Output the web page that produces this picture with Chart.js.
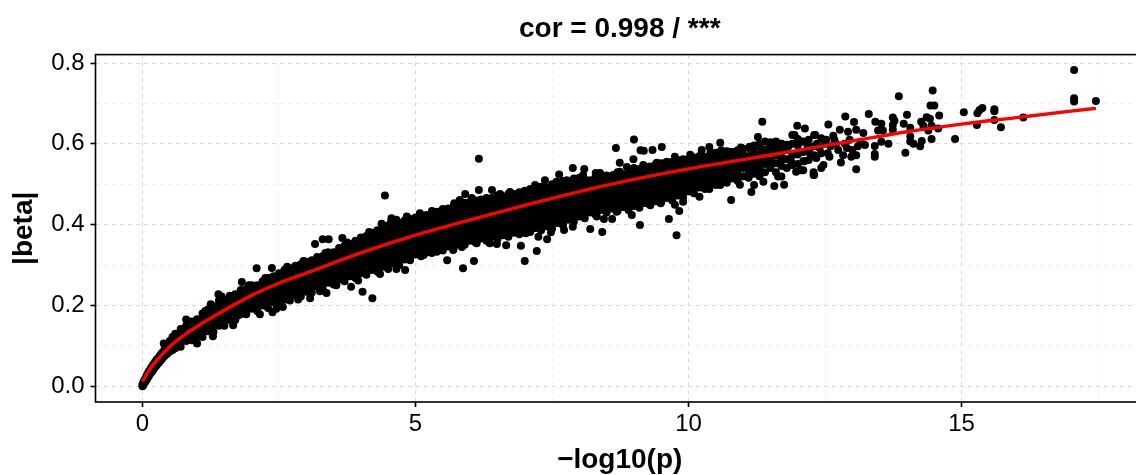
<!DOCTYPE html>
<html>
<head>
<meta charset="utf-8">
<title>cor = 0.998</title>
<script src="https://cdn.jsdelivr.net/npm/chart.js@4"></script>
<style>
  html, body { margin: 0; padding: 0; background: #fff; overflow: hidden; }
  #wrap { width: 1150px; height: 475px; }
</style>
</head>
<body>
<div id="wrap"><canvas id="plot" width="1150" height="475"></canvas></div>
<script>
// each row: -log10(p), then the |beta| values read at that position
const rowsOrigin = [
  [0,0,.004],[.01,.002,.006],[.02,.005,.011],[.04,.009,.016],[.06,.013,.021],[.08,.017,.027],[.1,.022,.032],[.12,.026,.037],
  [.15,.032,.044],[.18,.037,.05],[.2,.042,.054],[.23,.047,.06],[.26,.052,.066],[.3,.058,.072],[.33,.063,.078],[.36,.068,.083],
  [.4,.074,.09],[.45,.08,.096],[.5,.086,.102,.112]
];
const rowsStart = [
  [.55,.09,.106,.122],[.6,.094,.108,.122,.13],[.7,.098,.114,.13,.142],[.8,.112,.124,.138,.15],[.9,.114,.128,.144,.16],
  [1,.124,.138,.152,.166],[1.1,.122,.138,.154,.17,.18],[1.2,.136,.152,.168,.184,.19],[1.3,.134,.15,.166,.182,.198],
  [1.4,.15,.166,.182,.198,.212],[1.5,.15,.166,.182,.198,.214],[1.6,.164,.18,.196,.212,.224],[1.7,.164,.18,.196,.212,.228],
  [1.8,.178,.194,.21,.226,.238],[1.9,.178,.194,.21,.226,.24],[2,.192,.208,.224,.24,.25],[2.1,.186,.202,.218,.234,.25],
  [2.2,.2,.216,.232,.248,.26],[2.3,.194,.21,.226,.242,.258,.268],[2.4,.208,.224,.24,.256,.272],[2.5,.2,.216,.232,.248,.264,.28],
  [2.6,.214,.23,.246,.262,.278,.288],[2.7,.212,.228,.244,.26,.276,.292],[2.8,.226,.242,.258,.274,.29,.298],[2.9,.222,.238,.254,.27,.286,.302],
  [3,.234,.25,.266,.282,.298,.308],[3.1,.232,.248,.264,.28,.296,.312],[3.2,.246,.262,.278,.294,.31,.32],[3.3,.242,.258,.274,.29,.306,.322],
  [3.4,.256,.272,.288,.304,.32,.332],[3.5,.252,.268,.284,.3,.316,.332],[3.6,.264,.28,.296,.312,.328,.342],[3.7,.26,.276,.292,.308,.324,.34,.348],
  [3.8,.272,.288,.304,.32,.336,.352],[3.9,.268,.284,.3,.316,.332,.348,.36],[4,.28,.296,.312,.328,.344,.36,.368],
  [4.1,.276,.292,.308,.324,.34,.356,.372],[4.2,.288,.304,.32,.336,.352,.368,.38],[4.3,.284,.3,.316,.332,.348,.364,.38,.386],
  [4.4,.296,.312,.328,.344,.36,.376,.392],[4.5,.29,.306,.322,.338,.354,.37,.386,.398],[4.6,.304,.32,.336,.352,.368,.384,.4],
  [4.7,.3,.316,.332,.348,.364,.38,.396,.404],[4.8,.314,.33,.346,.362,.378,.394,.41],[4.9,.312,.328,.344,.36,.376,.392,.408,.414]
];
const rowsMiddle = [
  [5,.326,.342,.358,.374,.39,.406,.418],[5.1,.322,.338,.354,.37,.386,.402,.418],[5.2,.332,.348,.364,.38,.396,.412,.424],
  [5.3,.33,.346,.362,.378,.394,.41,.426],[5.4,.34,.356,.372,.388,.404,.42,.432],[5.5,.336,.352,.368,.384,.4,.416,.432],
  [5.6,.346,.362,.378,.394,.41,.426,.44],[5.7,.342,.358,.374,.39,.406,.422,.438,.446],[5.8,.352,.368,.384,.4,.416,.432,.448],
  [5.9,.35,.366,.382,.398,.414,.43,.446,.454],[6,.36,.376,.392,.408,.424,.44,.456],[6.1,.356,.372,.388,.404,.42,.436,.452,.46],
  [6.2,.366,.382,.398,.414,.43,.446,.462],[6.3,.36,.376,.392,.408,.424,.44,.456,.466],[6.4,.37,.386,.402,.418,.434,.45,.466],
  [6.5,.364,.38,.396,.412,.428,.444,.46,.472],[6.6,.374,.39,.406,.422,.438,.454,.47],[6.7,.37,.386,.402,.418,.434,.45,.466,.476],
  [6.8,.38,.396,.412,.428,.444,.46,.476],[6.9,.376,.392,.408,.424,.44,.456,.472,.48],[7,.386,.402,.418,.434,.45,.466,.482],
  [7.1,.382,.398,.414,.43,.446,.462,.478,.488],[7.2,.392,.408,.424,.44,.456,.472,.488],[7.3,.386,.402,.418,.434,.45,.466,.482,.494],
  [7.4,.396,.412,.428,.444,.46,.476,.492],[7.5,.39,.406,.422,.438,.454,.47,.486,.5],[7.6,.404,.42,.436,.452,.468,.484,.5],
  [7.7,.4,.416,.432,.448,.464,.48,.496,.508],[7.8,.412,.428,.444,.46,.476,.492,.508],[7.9,.408,.424,.44,.456,.472,.488,.504,.514],
  [8,.42,.436,.452,.468,.484,.5,.516],[8.1,.416,.432,.448,.464,.48,.496,.512],[8.2,.43,.446,.462,.478,.494,.51],
  [8.3,.424,.44,.456,.472,.488,.504,.52],[8.4,.436,.452,.468,.484,.5,.516],[8.5,.43,.446,.462,.478,.494,.51,.522],
  [8.6,.44,.456,.472,.488,.504,.52],[8.7,.434,.45,.466,.482,.498,.514,.53],[8.8,.444,.46,.476,.492,.508,.524],
  [8.9,.436,.452,.468,.484,.5,.516,.532],[9,.446,.462,.478,.494,.51,.526,.54],[9.1,.442,.458,.474,.49,.506,.522,.538],
  [9.2,.454,.47,.486,.502,.518,.534,.544],[9.3,.448,.464,.48,.496,.512,.528,.544],[9.4,.458,.474,.49,.506,.522,.538,.55],
  [9.5,.456,.472,.488,.504,.52,.536,.552],[9.6,.466,.482,.498,.514,.53,.546,.556],[9.7,.46,.476,.492,.508,.524,.54,.556],
  [9.8,.472,.488,.504,.52,.536,.552,.56],[9.9,.468,.484,.5,.516,.532,.548,.562],[10,.482,.498,.514,.53,.546,.562]
];
const rowsLate = [
  [10.1,.478,.494,.51,.526,.542,.558,.566],[10.2,.492,.508,.524,.54,.556,.57],[10.3,.488,.504,.52,.536,.552,.568],
  [10.4,.5,.516,.532,.548,.564,.578],[10.5,.498,.514,.53,.546,.562,.578],[10.6,.51,.526,.542,.558,.574,.584],
  [10.7,.504,.52,.536,.552,.568,.582],[10.8,.514,.532,.548,.566,.58],[10.9,.508,.526,.542,.558,.574,.584],[11,.52,.54,.556,.572,.588],
  [11.1,.516,.534,.552,.57,.59],[11.2,.526,.544,.56,.578,.596],[11.3,.52,.538,.556,.574,.592,.6],[11.4,.53,.55,.568,.586,.606],
  [11.5,.54,.558,.578,.596,.604],[11.6,.53,.552,.572,.59,.606],[11.7,.519,.545,.568,.586,.6],[11.8,.54,.562,.584,.598],
  [11.9,.548,.572,.6,.622],[12,.55,.574,.596,.612],[12.1,.535,.557,.58,.606],[12.2,.56,.584,.61],[12.3,.523,.572,.594,.622]
];
const rowsEdge = [
  [4.84,.42],[5.08,.428],[5.3,.434],[5.5,.439],[5.81,.461],[6.03,.466],[6.55,.476],[6.73,.481],[7,.484],[7.19,.498],[7.37,.51],
  [7.58,.506],[7.77,.51],[8.07,.523],[8.62,.523],[8.74,.531],[9.17,.548],[9.42,.553],[9.75,.568],[10.03,.573],[10.79,.58],[11.12,.593],
  [4.9,.315],[5.15,.325],[5.39,.333],[5.69,.337],[5.85,.345],[6.12,.354],[6.36,.354],[6.67,.374],[7.16,.391],[7.41,.399],[8.01,.424],
  [8.38,.441],[8.68,.432],[8.96,.424],[9.23,.453],[9.49,.453],[9.75,.449],[9.9,.457],[10.58,.498],[11.07,.519],[11.37,.506],
  [1.75,.175],[2.15,.178],[2.45,.192],[2.85,.215],[3.25,.235],[3.55,.25],[3.95,.262],[4.35,.278],[4.65,.29],
  [1.15,.186],[1.45,.222],[1.95,.25],[2.25,.268],[2.65,.296],[2.95,.31],[3.35,.33],[3.75,.356],[4.15,.382],[4.55,.406]
];
const straysLow = [
  [.39,.106],[.8,.165],[1,.106],[1.29,.124],[1.39,.228],[1.25,.203],[1.66,.151],[1.82,.258],[2.09,.292],[2.37,.293],
  [2.38,.183],[2.57,.196],[3.07,.218],[3.37,.231],[3.16,.352],[3.3,.364],[3.41,.364],[3.66,.367],[3.82,.246],[4.03,.234],
  [4.21,.218],[4.44,.472],[4.56,.416],[4.65,.412],[4.38,.402],[4.81,.288],[5.87,.292],[6.07,.31],[5.58,.312]
];
const straysMiddle = [
  [6.16,.563],[7,.31],[6.93,.348],[7.22,.335],[6.66,.349],[6.49,.352],[7.02,.379],[7.25,.37],[7.41,.364],[7.48,.381],
  [7.7,.399],[7.72,.387],[7.88,.395],[8.2,.389],[8.42,.382],[8.32,.42],[8.45,.414],[8.6,.414],[9.11,.399],[9.64,.414],
  [9.78,.374],[9.83,.434],[10.78,.461],[10.2,.469],[10.38,.488],[10.94,.499],[11.15,.481],[11.2,.498],[11.35,.655],[9,.611],
  [8.67,.59],[9.12,.584],[9.18,.583],[9.34,.585],[9.51,.592],[8.74,.553],[8.99,.562],[8.87,.543],[7.88,.54],[8.09,.538],
  [7.63,.524],[8.38,.528],[8.3,.528],[5.91,.476],[6.16,.486],[6.4,.486],[5.71,.453],[10.24,.585],[10.38,.592],[10.58,.603],
  [10.96,.591],[11.27,.617]
];
const straysHigh = [
  [17.06,.783],[17.06,.713],[17.06,.705],[17.46,.706],[16.13,.665],[15.72,.641],[15.6,.686],[15.6,.681],[15.6,.659],[15.38,.689],
  [15.29,.676],[15.33,.684],[15.28,.647],[15.04,.678],[14.88,.612],[14.47,.732],[13.85,.718],[14.43,.695],[14.5,.695],[14.59,.67],
  [14,.672],[12.87,.668],[13.3,.674],[13.03,.654],[12.56,.648],[11.99,.645],[12.13,.638],[13.97,.578],[13.41,.568],[13.07,.537],
  [12.29,.523],[12.29,.53],[11.75,.499],[11.57,.496],[12.12,.557],[12.79,.554],[13.74,.665],[13.77,.657],[13.74,.647],[13.74,.635],
  [13.42,.655],[13.53,.65],[13.47,.633],[13.56,.633],[13.53,.605],[13.66,.6],[13.41,.595],[13.41,.575],[13.94,.65],[14.06,.64],
  [14.06,.618],[14.06,.606],[14.12,.6],[14.24,.594],[14.27,.607],[14.26,.655],[14.36,.666],[14.3,.645],[14.42,.662],[14.45,.645],
  [14.39,.633],[14.45,.612],[14.57,.638],[13.2,.627],[13.07,.635],[12.92,.63],[12.77,.635],[12.67,.61],[12.86,.6],[13.23,.597],
  [13.1,.594],[13.07,.572],[12.98,.568],[12.83,.572],[12.74,.585],[12.55,.577],[12.43,.577],[12.25,.572],[12.34,.565],[12.47,.548],
  [12.43,.54],[12.06,.535],[11.97,.531],[12.32,.622],[12.43,.614],[11.94,.622],[12.06,.606],[11.7,.6],[11.58,.59],[11.83,.594],
  [11.5,.548],[11.64,.519],[11.7,.56],[11.88,.556],[12.18,.594],[12.6,.594],[12.58,.568],[12.5,.6],[12.65,.62],[12.95,.61],
  [13.15,.605],[13,.585],[12.9,.59],[12.4,.59],[12.7,.6],[12.2,.58],[12.35,.6],[12.52,.61]
];
const fitX = [0,.1,.25,.5,.75,1,1.5,2,2.5,3,4,5,6,7,8,9,10,11,12,13,14,15,16,17,17.46];
const fitY = [.012,.035,.062,.098,.125,.148,.188,.225,.255,.28,.33,.374,.412,.448,.482,.512,.538,.561,.584,.607,.63,.649,.665,.681,.688];
const xTicks = [0,2.5,5,7.5,10,12.5,15,17.5];
const xLabels = [0,5,10,15];
const yTicks = [0,.1,.2,.3,.4,.5,.6,.7,.8];
const yLabels = [0,.2,.4,.6,.8];

const FONT = '"Liberation Sans", Arial, sans-serif';

const isLabelled = (list, v) => list.some(l => Math.abs(l - v) < 1e-6);

const points = [...rowsOrigin, ...rowsStart, ...rowsMiddle, ...rowsLate, ...rowsEdge, ...straysLow, ...straysMiddle, ...straysHigh]
  .flatMap(([x, ...betas]) => betas.map(y => ({ x, y })));

const frame = {
  id: 'frame',
  afterDatasetsDraw(chart) {
    const { ctx, chartArea: a } = chart;
    ctx.save();
    ctx.strokeStyle = '#000';
    ctx.lineWidth = 1.6;
    ctx.strokeRect(a.left, a.top, a.right - a.left, a.bottom - a.top);
    ctx.restore();
  }
};

const gridFor = list => ({
  color: c => isLabelled(list, c.tick.value) ? '#d9d9d9' : '#f0f0f0',
  tickColor: c => isLabelled(list, c.tick.value) ? '#000' : 'transparent',
  lineWidth: 1,
  tickWidth: 1.6,
  tickLength: 5
});

new Chart(document.getElementById('plot'), {
  type: 'scatter',
  data: {
    datasets: [
      {
        label: 'fit',
        data: fitX.map((x, i) => ({ x, y: fitY[i] })),
        showLine: true,
        borderColor: '#ff0000',
        borderWidth: 3.4,
        cubicInterpolationMode: 'monotone',
        pointRadius: 0,
        order: 1
      },
      {
        label: 'genes',
        data: points,
        backgroundColor: '#000',
        borderWidth: 0,
        pointRadius: 4,
        order: 2
      }
    ]
  },
  options: {
    responsive: false,
    animation: false,
    layout: { padding: { left: 0, right: 6, top: 0, bottom: 0 } },
    plugins: {
      legend: { display: false },
      tooltip: { enabled: false },
      title: {
        display: true,
        text: 'cor = 0.998 / ***',
        color: '#000',
        fullSize: false,
        font: { family: FONT, size: 28, weight: 'bold' },
        padding: { top: 12, bottom: 9 }
      }
    },
    scales: {
      x: {
        type: 'linear',
        min: -0.86,
        max: 18.34,
        afterBuildTicks: axis => { axis.ticks = xTicks.map(value => ({ value })); },
        afterFit: axis => { axis.height = 73; },
        grid: gridFor(xLabels),
        border: { dash: [4, 4], display: false },
        ticks: {
          autoSkip: false,
          maxRotation: 0,
          color: '#000',
          padding: 3,
          font: { family: FONT, size: 24 },
          callback: v => isLabelled(xLabels, v) ? String(v) : ''
        },
        title: {
          display: true,
          text: '\u2212log10(p)',
          color: '#000',
          font: { family: FONT, size: 28, weight: 'bold' },
          padding: { top: 6, bottom: -2 }
        }
      },
      y: {
        type: 'linear',
        min: -0.039,
        max: 0.821,
        afterBuildTicks: axis => { axis.ticks = yTicks.map(value => ({ value })); },
        afterFit: axis => { axis.width = 95.5; },
        grid: gridFor(yLabels),
        border: { dash: [4, 4], display: false },
        ticks: {
          autoSkip: false,
          color: '#000',
          padding: 6,
          font: { family: FONT, size: 24 },
          callback: v => isLabelled(yLabels, v) ? v.toFixed(1) : ''
        },
        title: {
          display: true,
          text: '|beta|',
          color: '#000',
          font: { family: FONT, size: 28, weight: 'bold' },
          padding: { top: 7, bottom: 0 }
        }
      }
    }
  },
  plugins: [frame]
});
</script>
</body>
</html>
